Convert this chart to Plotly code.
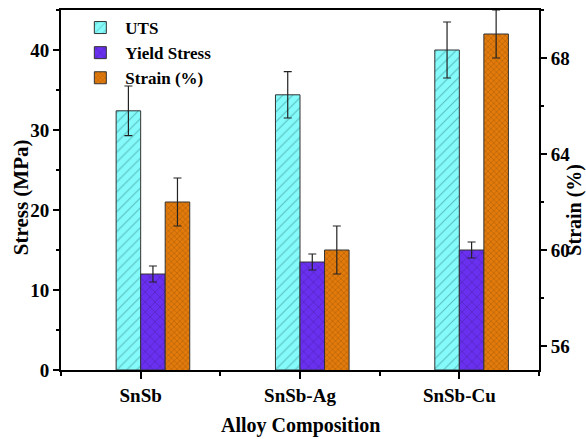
import plotly.graph_objects as go

categories = ["SnSb", "SnSb-Ag", "SnSb-Cu"]
uts = [32.4, 34.4, 40.0]
uts_err = [3.1, 2.9, 3.5]
yield_stress = [12.0, 13.5, 15.0]
yield_err = [1.0, 1.0, 1.0]
strain = [62.0, 60.0, 69.0]
strain_err = [1.0, 1.0, 1.0]

xpos = list(range(len(categories)))
W = 0.154
FONT = "Liberation Serif"
err_style = dict(type="data", visible=True, color="#222222", thickness=1.2, width=4)

fig = go.Figure()
fig.add_trace(go.Bar(
    x=xpos, y=uts, name="<b>UTS</b>", width=W, offset=-W,
    error_y=dict(array=uts_err, **err_style),
    marker=dict(color="#84FAFA", line=dict(color="#333333", width=1),
                pattern=dict(shape="/", fgcolor="#2f7f7f", size=7, solidity=0.15)),
))
fig.add_trace(go.Bar(
    x=xpos, y=yield_stress, name="<b>Yield Stress</b>", width=W, offset=0,
    error_y=dict(array=yield_err, **err_style),
    marker=dict(color="#6A30F0", line=dict(color="#333333", width=1),
                pattern=dict(shape="x", fgcolor="#2a1060", size=7, solidity=0.15)),
))
fig.add_trace(go.Bar(
    x=xpos, y=strain, name="<b>Strain (%)</b>", width=W, offset=W, yaxis="y2",
    error_y=dict(array=strain_err, **err_style),
    marker=dict(color="#E27A0C", line=dict(color="#333333", width=1),
                pattern=dict(shape="x", fgcolor="#5a3000", size=4, solidity=0.2)),
))

axis_font = dict(family=FONT, size=19, color="black")
title_font = dict(family=FONT, size=20, color="black")
fig.update_layout(
    width=586, height=439,
    margin=dict(l=61, r=47, t=10, b=69, autoexpand=False),
    paper_bgcolor="white", plot_bgcolor="white",
    barmode="overlay",
    showlegend=True,
    legend=dict(x=0.03, y=1.0, xanchor="left", yanchor="top",
                font=dict(family=FONT, size=17, color="black"),
                bgcolor="rgba(0,0,0,0)", itemwidth=40, tracegroupgap=0),
    font=dict(family=FONT, color="black"),
    xaxis=dict(
        range=[-0.5, 2.5], tickmode="array", tickvals=xpos,
        ticktext=["<b>" + c + "</b>" for c in categories],
        tickfont=axis_font, ticks="outside", ticklen=7, tickwidth=1.5, tickcolor="black",
        showline=True, linecolor="black", linewidth=2, mirror=True, showgrid=False,
        zeroline=False, automargin=False,
        minor=dict(tickmode="array", tickvals=[-0.5, 0.5, 1.5, 2.5], ticks="outside",
                   ticklen=4, tickwidth=1.5, tickcolor="black", showgrid=False),
    ),
    yaxis=dict(
        range=[0, 45], tickmode="linear", tick0=0, dtick=10,
        tickfont=axis_font, ticks="outside", ticklen=6, tickwidth=1.5, tickcolor="black",
        tickprefix="<b>", ticksuffix="</b>",
        showline=True, linecolor="black", linewidth=2, showgrid=False, zeroline=False,
        automargin=False,
        minor=dict(tickmode="linear", tick0=5, dtick=10, ticks="outside", ticklen=3,
                   tickwidth=1.5, tickcolor="black", showgrid=False),
    ),
    yaxis2=dict(
        range=[55, 70], overlaying="y", side="right", tickmode="linear", tick0=56, dtick=4,
        tickfont=axis_font, ticks="outside", ticklen=6,
        tickwidth=1.5, tickcolor="black", tickprefix="<b>", ticksuffix="</b>",
        showline=True, linecolor="black", linewidth=2, showgrid=False, zeroline=False,
        automargin=False,
        minor=dict(tickmode="linear", tick0=58, dtick=4, ticks="outside", ticklen=3,
                   tickwidth=1.5, tickcolor="black", showgrid=False),
    ),
    annotations=[
        dict(text="<b>Stress (MPa)</b>", xref="paper", yref="paper", x=-0.085, y=0.481,
             xanchor="center", yanchor="middle", textangle=-90, showarrow=False,
             font=dict(family=FONT, size=21, color="black")),
        dict(text="<b>Strain (%)</b>", xref="paper", yref="paper", x=1.075, y=0.445,
             xanchor="center", yanchor="middle", textangle=-90, showarrow=False, font=title_font),
        dict(text="<b>Alloy Composition</b>", xref="paper", yref="paper", x=0.5, y=-0.153,
             xanchor="center", yanchor="middle", showarrow=False, font=title_font),
    ],
)

fig.write_html("out.html", config={"displayModeBar": False},
               post_script="document.body.style.margin='0';document.body.style.overflow='hidden';")
